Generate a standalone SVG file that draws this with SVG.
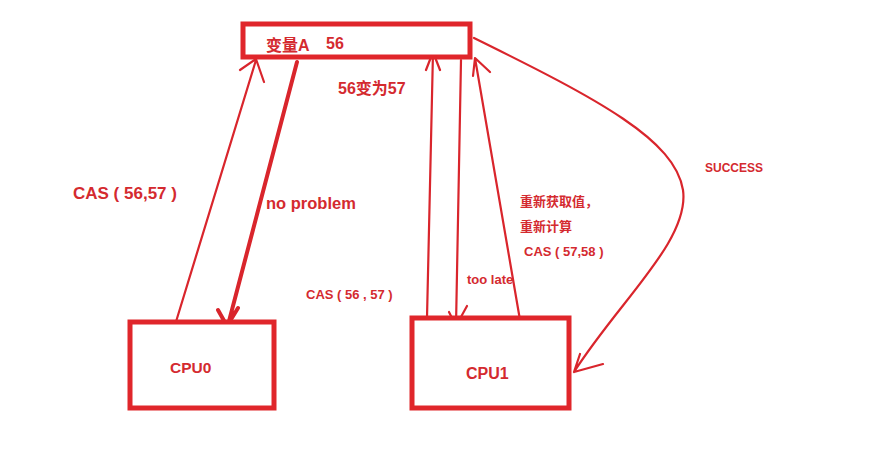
<svg xmlns="http://www.w3.org/2000/svg" width="892" height="471" viewBox="0 0 892 471">
<style>
.box{fill:#fff;stroke:#e0262b;stroke-width:5}
.ln{fill:none;stroke:#d9252c;stroke-width:2.2;stroke-linecap:round;stroke-linejoin:round}
.thk{stroke-width:4}
.t{font-family:"Liberation Sans","Noto Sans CJK SC",sans-serif;font-weight:bold;fill:#d42a2f}
</style>
<rect width="892" height="471" fill="#fff"/>
<g id="edges">
<path class="ln" d="M175,325 L256,60 M240,70 L256,59 L264,82"/>
<path class="ln thk" d="M297,62 L228,325 M218,310 L227,326 L238,308"/>
<path class="ln" d="M427,318 L433,52 M426,70 L433,52 L440,70"/>
<path class="ln" d="M461,60 L456,326 M449,312 L456,326 L467,306"/>
<path class="ln" d="M520,320 L475,58 M473,76 L475,58 L490,72"/>
<path class="ln" d="M474,38 C600,100 675,140 683,190 C690,240 620,300 574,372 M580,354 L574,372 L603,364"/>
</g>
<g id="varA">
<rect class="box" x="243" y="24" width="227" height="33"/>
<text class="t" x="266" y="51" font-size="16">变量A</text>
<text class="t" x="326" y="49" font-size="16">56</text>
</g>
<g id="cpu0">
<rect class="box" x="130" y="322" width="144" height="86"/>
<text class="t" x="170" y="373" font-size="15.5">CPU0</text>
</g>
<g id="cpu1">
<rect class="box" x="412" y="318" width="157" height="90"/>
<text class="t" x="466" y="379" font-size="16">CPU1</text>
</g>
<g id="labels">
<text class="t" x="338" y="94" font-size="16">56变为57</text>
<text class="t" x="73" y="199" font-size="17">CAS ( 56,57 )</text>
<text class="t" x="266" y="209" font-size="16.5">no problem</text>
<text class="t" x="705" y="172" font-size="12">SUCCESS</text>
<text class="t" x="520" y="206" font-size="13">重新获取值，</text>
<text class="t" x="520" y="231" font-size="13">重新计算</text>
<text class="t" x="524" y="256" font-size="13">CAS ( 57,58 )</text>
<text class="t" x="467" y="284" font-size="13">too late</text>
<text class="t" x="306" y="299" font-size="13">CAS ( 56 , 57 )</text>
</g>
</svg>
